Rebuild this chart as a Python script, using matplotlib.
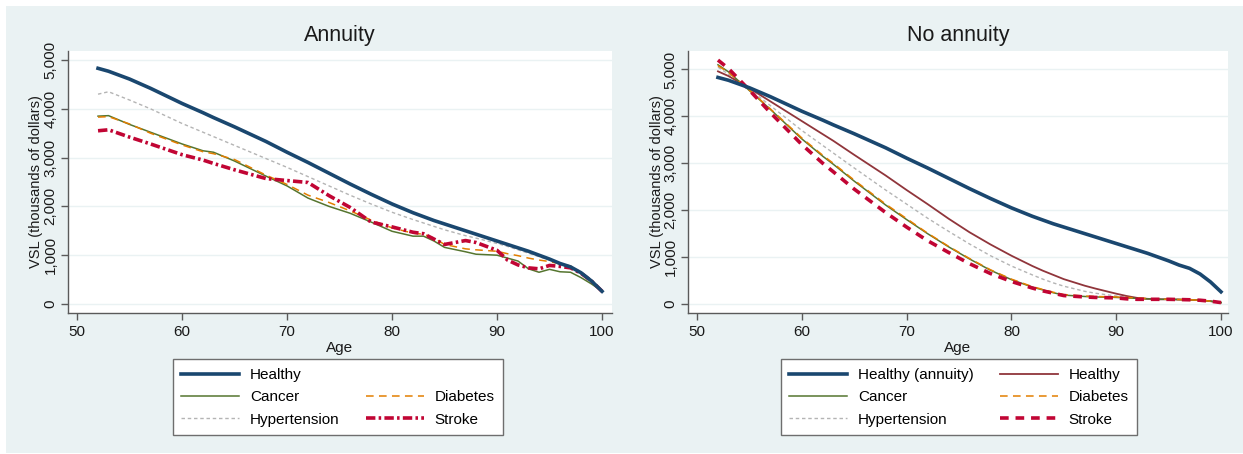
import matplotlib
matplotlib.use("Agg")
import matplotlib.pyplot as plt
from matplotlib.patches import Rectangle
from matplotlib.lines import Line2D
from matplotlib.ticker import FuncFormatter

plt.rcParams['font.family'] = ['Liberation Sans', 'DejaVu Sans']

ages = [52, 53, 55, 57, 60, 62, 63, 65, 68, 70, 72, 74, 76, 78, 80, 82, 83, 84,
        85, 87, 88, 90, 91, 92, 93, 94, 95, 96, 97, 98, 99, 100]

# healthy with annuity (drawn in both panels)
healthy_ann = [4830, 4770, 4610, 4420, 4110, 3920, 3820, 3630, 3330, 3110, 2900, 2680,
               2460, 2250, 2050, 1870, 1790, 1710, 1640, 1500, 1430, 1290, 1220, 1150,
               1080, 1000, 920, 830, 760, 640, 470, 260]

# annuity panel
cancer_ann = [3850, 3860, 3680, 3520, 3280, 3140, 3110, 2930, 2620, 2420, 2170, 2000,
              1860, 1680, 1490, 1390, 1390, 1290, 1160, 1070, 1020, 1000, 940, 880,
              720, 650, 710, 660, 650, 540, 410, 260]
diabetes_ann = [3830, 3840, 3690, 3500, 3260, 3120, 3080, 2960, 2640, 2450, 2230, 2080,
                1910, 1720, 1560, 1450, 1430, 1350, 1220, 1130, 1110, 1080, 1030, 990,
                940, 900, 870, 820, 780, 640, 470, 260]
hyper_ann = [4300, 4350, 4180, 4000, 3700, 3520, 3430, 3250, 2980, 2800, 2610, 2420,
             2230, 2050, 1880, 1730, 1660, 1590, 1520, 1400, 1350, 1240, 1180, 1110,
             1040, 970, 900, 820, 740, 610, 440, 260]
stroke_ann = [3550, 3570, 3420, 3280, 3060, 2950, 2880, 2750, 2570, 2530, 2490, 2220,
              1980, 1680, 1580, 1470, 1440, 1330, 1220, 1300, 1260, 1100, 900, 800,
              740, 720, 790, 770, 740, 630, 470, 260]

# no annuity panel
healthy_no = [4960, 4860, 4600, 4320, 3900, 3620, 3480, 3180, 2740, 2430, 2130, 1820,
              1530, 1270, 1030, 810, 710, 620, 530, 390, 330, 220, 170, 130,
              110, 100, 100, 95, 90, 80, 60, 30]
cancer_no = [5100, 4950, 4550, 4150, 3520, 3150, 2980, 2620, 2110, 1800, 1500, 1220,
             960, 720, 520, 360, 300, 240, 190, 160, 150, 140, 130, 120,
             110, 100, 100, 95, 90, 80, 60, 30]
diabetes_no = [5080, 4940, 4560, 4160, 3540, 3170, 3000, 2640, 2130, 1820, 1510, 1230,
               970, 730, 530, 370, 310, 250, 200, 170, 160, 150, 140, 130,
               115, 105, 100, 95, 90, 80, 60, 30]
hyper_no = [5050, 4900, 4580, 4230, 3700, 3380, 3220, 2900, 2430, 2130, 1830, 1550,
            1280, 1030, 810, 620, 530, 450, 380, 270, 230, 170, 140, 120,
            110, 100, 100, 95, 90, 80, 60, 30]
stroke_no = [5200, 5020, 4560, 4080, 3400, 3000, 2820, 2450, 1950, 1640, 1350, 1100,
             860, 650, 480, 340, 280, 230, 180, 150, 140, 130, 110, 100,
             100, 100, 100, 95, 90, 80, 60, 30]

yticks = [0, 1000, 2000, 3000, 4000, 5000]
xticks = [50, 60, 70, 80, 90, 100]

NAVY = '#1a476f'
MAROON = '#90353b'
GREEN = '#55752f'
ORANGE = '#e37e00'
GRAY = '#b4b4b4'
CRAN = '#c10534'
BG = '#eaf2f3'
TXT = '#1a1a1a'

W, H = 1243, 454
fig = plt.figure(figsize=(W / 100, H / 100), dpi=100)
fig.patch.set_facecolor('white')
fig.patches.append(Rectangle((6 / W, 1 / H), 1 - 6 / W, (H - 7) / H,
                             transform=fig.transFigure, facecolor=BG,
                             edgecolor='none', zorder=-10))


def px(x0, y0, x1, y1):
    return [x0 / W, (H - y1) / H, (x1 - x0) / W, (y1 - y0) / H]


def style_axes(ax, xlim, ylim):
    ax.set_facecolor('white')
    ax.set_xlim(*xlim)
    ax.set_ylim(*ylim)
    ax.set_xticks(xticks)
    ax.set_yticks(yticks)
    ax.yaxis.set_major_formatter(FuncFormatter(lambda v, p: f'{int(v):,}'))
    for s in ['top', 'right']:
        ax.spines[s].set_visible(False)
    for s in ['left', 'bottom']:
        ax.spines[s].set_color('#5a5a5a')
        ax.spines[s].set_linewidth(1.0)
    ax.tick_params(axis='both', colors='#5a5a5a', length=5, width=1,
                   labelsize=11, labelcolor=TXT)
    ax.tick_params(axis='x', pad=3.5)
    ax.tick_params(axis='y', pad=2.5, labelrotation=90)
    for lab in ax.get_yticklabels():
        lab.set_va('center')
    ax.grid(axis='y', color=BG, linewidth=1.0)
    ax.set_axisbelow(True)
    ax.set_ylabel('VSL (thousands of dollars)', fontsize=10.5, va='center',
                  color=TXT)
    ax.yaxis.set_label_coords(-0.058, 0.5)


# Annuity panel
ax1 = fig.add_axes(px(68, 51, 612, 313))
style_axes(ax1, (49.14, 100.95), (-185, 5185))
ax1.plot(ages, hyper_ann, color=GRAY, lw=1.0, dashes=(2.5, 2), label='Hypertension')
ax1.plot(ages, cancer_ann, color=GREEN, lw=1.1, label='Cancer')
ax1.plot(ages, diabetes_ann, color=ORANGE, lw=1.1, dashes=(5, 3.5), label='Diabetes')
ax1.plot(ages, stroke_ann, color=CRAN, lw=2.6, dashes=(2.6, 0.9, 0.7, 0.9), label='Stroke')
ax1.plot(ages, healthy_ann, color=NAVY, lw=2.6, label='Healthy')

# No annuity panel
ax2 = fig.add_axes(px(688, 51, 1228, 313))
style_axes(ax2, (49.14, 100.67), (-192, 5394))
ax2.plot(ages, hyper_no, color=GRAY, lw=1.0, dashes=(2.5, 2), label='Hypertension')
ax2.plot(ages, healthy_no, color=MAROON, lw=1.3, label='Healthy')
ax2.plot(ages, cancer_no, color=GREEN, lw=1.1, label='Cancer')
ax2.plot(ages, diabetes_no, color=ORANGE, lw=1.1, dashes=(5, 3.5), label='Diabetes')
ax2.plot(ages, stroke_no, color=CRAN, lw=2.6, dashes=(2.4, 1.9), label='Stroke')
ax2.plot(ages, healthy_ann, color=NAVY, lw=2.6, label='Healthy (annuity)')

# titles and x labels
for cx, title in [(340, 'Annuity'), (958, 'No annuity')]:
    fig.text(cx / W, (H - 35) / H, title, ha='center', va='center',
             fontsize=15.5, color=TXT)
    fig.text(cx / W, (H - 348) / H, 'Age', ha='center', va='center',
             fontsize=11, color=TXT)


def legend_handles(ax, order):
    lines = {l.get_label(): l for l in ax.get_lines()}
    hs, ls = [], []
    for name in order:
        if name is None:
            hs.append(Line2D([], [], alpha=0))
            ls.append('')
        else:
            hs.append(lines[name])
            ls.append(name)
    return hs, ls


leg_kw = dict(loc='upper left', mode='expand', ncol=2, fontsize=11,
              frameon=True, fancybox=False, framealpha=1, edgecolor='#6e6e6e',
              handlelength=3.8, handletextpad=0.7, labelspacing=0.55,
              borderpad=0.55, borderaxespad=0)

h, l = legend_handles(ax1, ['Healthy', 'Cancer', 'Hypertension',
                            None, 'Diabetes', 'Stroke'])
lg1 = fig.legend(h, l, bbox_to_anchor=(173 / W, (H - 364) / H, 330 / W, 0.01), **leg_kw)
lg1.get_frame().set_linewidth(1.0)

h, l = legend_handles(ax2, ['Healthy (annuity)', 'Cancer', 'Hypertension',
                            'Healthy', 'Diabetes', 'Stroke'])
lg2 = fig.legend(h, l, bbox_to_anchor=(781 / W, (H - 364) / H, 356 / W, 0.01), **leg_kw)
lg2.get_frame().set_linewidth(1.0)

fig.savefig('out.png', dpi=100, facecolor=fig.get_facecolor())
